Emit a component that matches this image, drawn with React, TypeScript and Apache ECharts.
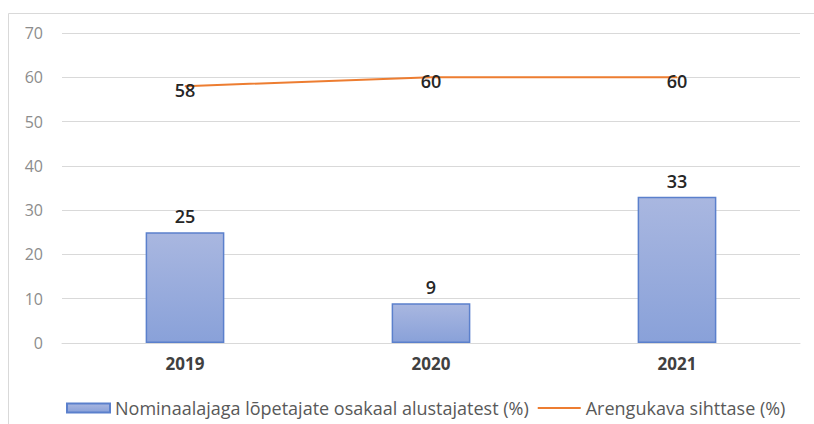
import React, { useEffect, useRef } from "react";
import * as echarts from "echarts";

const categories = ["2019", "2020", "2021"];
const barValues = [25, 9, 33];
const lineValues = [58, 60, 60];
const barName = "Nominaalajaga lõpetajate osakaal alustajatest (%)";
const lineName = "Arengukava sihttase (%)";

export default function App() {
  const ref = useRef<HTMLDivElement>(null);
  useEffect(() => {
    const chart = echarts.init(ref.current!, null, { renderer: "svg" });
    chart.setOption({
      animation: false,
      backgroundColor: "#fff",
      graphic: [
        {
          type: "rect",
          shape: { x: 8.5, y: 13.5, width: 830, height: 430 },
          style: { fill: "none", stroke: "#d9d9d9", lineWidth: 1 },
          silent: true,
        },
      ],
      grid: { left: 62, right: 14, top: 33, bottom: 81 },
      legend: {
        top: 394,
        left: 61,
        itemWidth: 43,
        itemHeight: 9,
        itemGap: 9,
        textStyle: { color: "#595959", fontSize: 18, fontFamily: "Open Sans, sans-serif" },
        data: [
          { name: barName, icon: "rect" },
          { name: lineName, icon: "path://M0,0H43V2H0Z", itemStyle: { color: "#ed7d31" } },
        ],
      },
      xAxis: {
        type: "category",
        data: categories,
        axisLine: { lineStyle: { color: "#d9d9d9" } },
        axisTick: { show: false },
        axisLabel: { color: "#404040", fontSize: 17, fontWeight: "bold", margin: 12, fontFamily: "Open Sans, sans-serif" },
      },
      yAxis: {
        type: "value",
        min: 0,
        max: 70,
        interval: 10,
        axisLine: { show: false },
        axisTick: { show: false },
        splitLine: { lineStyle: { color: "#d9d9d9" } },
        axisLabel: { color: "#8c8c8c", fontSize: 16, margin: 19, fontFamily: "Open Sans, sans-serif" },
      },
      series: [
        {
          name: barName,
          type: "bar",
          data: barValues,
          barWidth: "32%",
          itemStyle: {
            color: new echarts.graphic.LinearGradient(0, 0, 0, 1, [
              { offset: 0, color: "#a9b7e0" },
              { offset: 1, color: "#89a1d9" },
            ]),
            borderColor: "#5b80cc",
            borderWidth: 1.5,
          },
          label: {
            show: true,
            position: "top",
            distance: 7,
            color: "#262626",
            fontSize: 18,
            fontWeight: 600,
            fontFamily: "Open Sans, sans-serif",
          },
        },
        {
          name: lineName,
          type: "line",
          data: lineValues,
          symbol: "circle",
          symbolSize: 1,
          showSymbol: true,
          lineStyle: { color: "#ed7d31", width: 2 },
          itemStyle: { color: "#ed7d31" },
          label: {
            show: true,
            position: "top",
            distance: 0,
            offset: [0, 13],
            color: "#262626",
            fontSize: 18,
            fontWeight: 600,
            fontFamily: "Open Sans, sans-serif",
          },
        },
      ],
    });
    return () => chart.dispose();
  }, []);
  return <div ref={ref} style={{ position: "absolute", left: 0, top: 0, width: 814, height: 424 }} />;
}
